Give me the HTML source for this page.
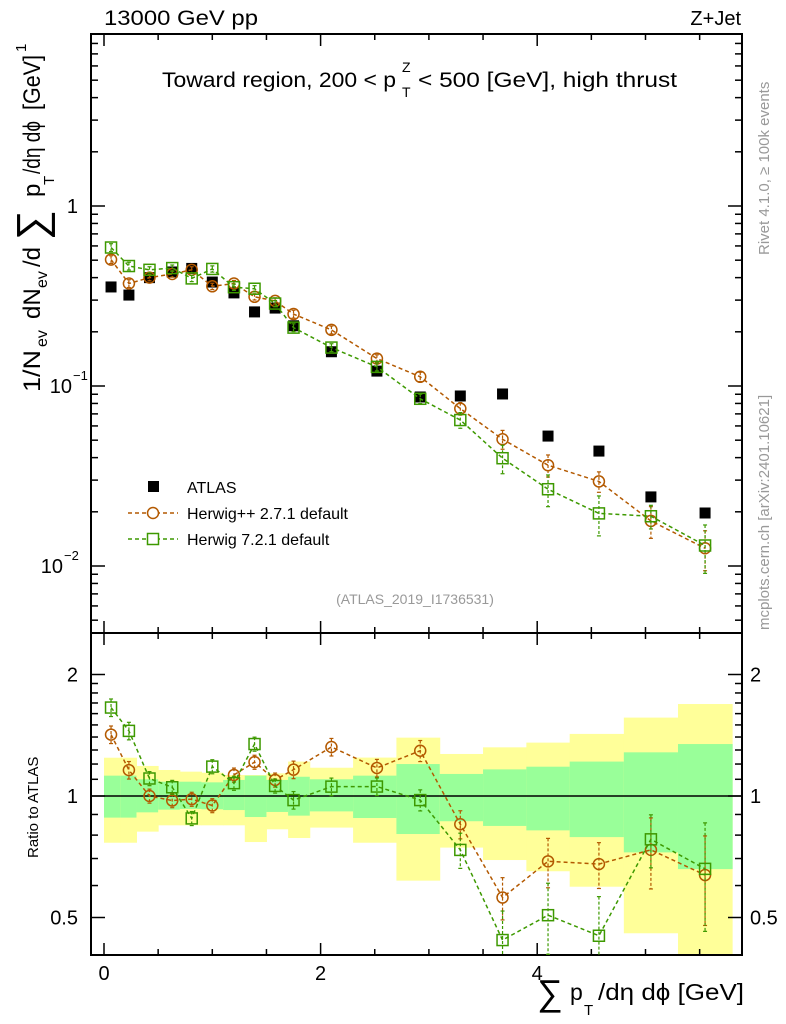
<!DOCTYPE html>
<html><head><meta charset="utf-8"><style>
body{margin:0;background:#fff;}
svg{display:block;font-family:"Liberation Sans",sans-serif;}
</style></head><body>
<svg id="c" width="786" height="1024"></svg>
<script>
const binEdges=[0,0.15,0.3,0.5,0.7,0.9,1.1,1.3,1.5,1.7,1.9,2.3,2.7,3.1,3.5,3.9,4.3,4.8,5.3,5.8];
const xCenters=[0.065,0.23,0.42,0.63,0.81,1.0,1.2,1.39,1.58,1.75,2.1,2.52,2.92,3.29,3.68,4.1,4.57,5.05,5.55];
const atlasVals=[0.355,0.32,0.40,0.43,0.45,0.378,0.329,0.258,0.271,0.216,0.155,0.121,0.0869,0.088,0.0903,0.0527,0.0435,0.0242,0.0197];
const herwigPP=[0.504,0.371,0.40,0.419,0.442,0.358,0.371,0.313,0.297,0.251,0.205,0.142,0.1125,0.0749,0.0506,0.0363,0.0295,0.0178,0.01255];
const herwig7=[0.588,0.464,0.442,0.452,0.396,0.447,0.354,0.347,0.287,0.211,0.1635,0.1277,0.0849,0.0647,0.0397,0.0267,0.0196,0.0189,0.0130];
const herwigPPErr=[0.05,0.05,0.04,0.04,0.04,0.04,0.04,0.04,0.04,0.05,0.05,0.05,0.06,0.08,0.12,0.14,0.13,0.2,0.25];
const herwig7Err=[0.05,0.05,0.04,0.04,0.04,0.04,0.04,0.04,0.04,0.05,0.05,0.05,0.06,0.1,0.18,0.2,0.25,0.15,0.3];
const yellowHi=[1.244,1.244,1.187,1.160,1.149,1.142,1.127,1.127,1.138,1.217,1.175,1.245,1.395,1.271,1.320,1.356,1.425,1.564,1.690];
const yellowLo=[0.766,0.766,0.816,0.846,0.846,0.846,0.846,0.769,0.827,0.787,0.835,0.766,0.617,0.745,0.694,0.651,0.596,0.457,0.38];
const greenHi=[1.123,1.123,1.100,1.085,1.085,1.081,1.096,1.123,1.096,1.116,1.100,1.123,1.200,1.134,1.164,1.182,1.217,1.283,1.345];
const greenLo=[0.884,0.884,0.911,0.925,0.929,0.927,0.923,0.887,0.913,0.894,0.916,0.882,0.805,0.866,0.843,0.822,0.791,0.725,0.659];

const L=91,R=742,T1=34,B1=633,T2=633,B2=955;
const X=v=>104+v*108.3;
const Y=v=>206-Math.log10(v)*180;
const YR=v=>796-Math.log2(v)*121.5;
const svg=document.getElementById('c');
const NS='http://www.w3.org/2000/svg';
function mk(tag,attrs,name,parent){const e=document.createElementNS(NS,tag);for(const k in attrs)e.setAttribute(k,attrs[k]);


(parent||svg).appendChild(e);return e;}
function txt(x,y,s,name,opts,parent){const o=Object.assign({x:x,y:y,'font-size':18,fill:'#000'},opts||{});if(o.textLength)o.lengthAdjust='spacingAndGlyphs';const e=mk('text',o,name,parent);e.textContent=s;return e;}
const cp=mk('clipPath',{id:'cr'},'ratio-clip');mk('rect',{x:L,y:T2,width:R-L,height:B2-T2},'clip-rect',cp);
const cm=mk('clipPath',{id:'cm'},'main-clip');mk('rect',{x:L,y:T1,width:R-L,height:B1-T1},'clip-rect-main',cm);
const gb=mk('g',{'clip-path':'url(#cr)'},'ratio-bands');
for(let i=0;i<xCenters.length;i++){
 const x0=X(binEdges[i]),x1=X(binEdges[i+1]);
 mk('rect',{x:x0,y:YR(yellowHi[i]),width:x1-x0+0.5,height:YR(yellowLo[i])-YR(yellowHi[i]),fill:'#ffff99'},'yellow-band',gb);
 mk('rect',{x:x0,y:YR(greenHi[i]),width:x1-x0+0.5,height:YR(greenLo[i])-YR(greenHi[i]),fill:'#99ff99'},'green-band',gb);
}
mk('line',{x1:L,x2:R,y1:YR(1),y2:YR(1),stroke:'#000','stroke-width':1.5},'ratio-unity-line');
mk('rect',{x:L,y:T1,width:R-L,height:B1-T1,fill:'none',stroke:'#000','stroke-width':2},'main-frame');
mk('rect',{x:L,y:T2,width:R-L,height:B2-T2,fill:'none',stroke:'#000','stroke-width':2},'ratio-frame');
for(let v=0;v<=5.8;v+=0.5){const big=Math.abs(v-Math.round(v/2)*2)<1e-6,l=big?12:6;
 [[T1,1],[B1,-1],[T2,1],[B2,-1]].forEach(([y,d])=>mk('line',{x1:X(v),x2:X(v),y1:y,y2:y+d*l,stroke:'#000','stroke-width':1.5},'x-tick'));}
[0,2,4].forEach(v=>txt(X(v),980,String(v),'x-tick-label',{'text-anchor':'middle','font-size':20}));
for(let e=-3;e<=0;e++)for(let m=1;m<10;m++){const v=m*Math.pow(10,e),y=Y(v);if(y<T1||y>B1)continue;const l=m==1?14:7;
 mk('line',{x1:L,x2:L+l,y1:y,y2:y,stroke:'#000','stroke-width':1.5},'y-tick');mk('line',{x1:R,x2:R-l,y1:y,y2:y,stroke:'#000','stroke-width':1.5},'y-tick');}
txt(78,213,'1','y-tick-label',{'text-anchor':'end','font-size':20});
txt(72,393,'10','y-tick-label',{'text-anchor':'end','font-size':20});
txt(73,380,'−1','y-tick-exp',{'font-size':13});
txt(63,573,'10','y-tick-label',{'text-anchor':'end','font-size':20});
txt(64,560,'−2','y-tick-exp',{'font-size':13});
[0.5,0.6,0.7,0.8,0.9,1,1.1,1.2,1.3,1.4,1.5,1.6,1.7,1.8,1.9,2].forEach(v=>{const y=YR(v);const l=(v==0.5||v==1||v==2)?14:7;
 mk('line',{x1:L,x2:L+l,y1:y,y2:y,stroke:'#000','stroke-width':1.5},'ratio-y-tick');mk('line',{x1:R,x2:R-l,y1:y,y2:y,stroke:'#000','stroke-width':1.5},'ratio-y-tick');});
[[2,'2'],[1,'1'],[0.5,'0.5']].forEach(([v,s])=>{txt(78,YR(v)+7,s,'ratio-tick-label',{'text-anchor':'end','font-size':20});txt(750,YR(v)+7,s,'ratio-tick-label-right',{'font-size':20});});
txt(104,25,'13000 GeV pp','title-left',{'font-size':21,textLength:154});
txt(741,25,'Z+Jet','title-right',{'text-anchor':'end','font-size':20});
txt(162,87,'Toward region, 200 < p','plot-title',{'font-size':21,textLength:234});
txt(402,97,'T','plot-title-sub',{'font-size':14});txt(402,72,'Z','plot-title-sup',{'font-size':14});
txt(418,87,'< 500 [GeV], high thrust','plot-title-rest',{'font-size':21,textLength:259});
txt(415,604,'(ATLAS_2019_I1736531)','analysis-id',{'text-anchor':'middle','font-size':14,fill:'#999'});
txt(0,0,'Rivet 4.1.0, ≥ 100k events','rivet-label',{'font-size':15,fill:'#999',transform:'translate(769,255) rotate(-90)'});
txt(0,0,'mcplots.cern.ch [arXiv:2401.10621]','mcplots-label',{'font-size':15,fill:'#999',transform:'translate(769,630) rotate(-90)'});
const yt=mk('g',{transform:'translate(40,395) rotate(-90)'},'y-axis-title');
txt(3,0,'1/N','y-title-part',{'font-size':24,textLength:42},yt);
txt(48,7,'ev','y-title-sub',{'font-size':16},yt);
txt(76,0,'dN','y-title-part',{'font-size':24},yt);
txt(107,7,'ev','y-title-sub',{'font-size':16},yt);
txt(128,0,'/d','y-title-part',{'font-size':24},yt);
txt(155,6,'∑','y-title-sum',{'font-size':42},yt);
txt(198,0,'p','y-title-part',{'font-size':24},yt);
txt(210,14,'T','y-title-sub',{'font-size':15},yt);
txt(221,0,'/dη dϕ','y-title-part',{'font-size':24,textLength:53},yt);
txt(285,0,'[GeV]','y-title-part',{'font-size':24,textLength:55},yt);
txt(343,-14,'1','y-title-sup',{'font-size':15},yt);
txt(0,0,'Ratio to ATLAS','ratio-y-axis-title',{'font-size':15,transform:'translate(38,858) rotate(-90)'});
txt(537,1005,'∑','x-axis-sum',{'font-size':36});
txt(570,1000,'p','x-axis-title',{'font-size':23});txt(584,1015,'T','x-axis-sub',{'font-size':15});
txt(598,1000,'/dη dϕ [GeV]','x-axis-title-rest',{'font-size':23,textLength:146});
const gm=mk('g',{'clip-path':'url(#cm)'},'main-series');
const gr=mk('g',{'clip-path':'url(#cr)'},'ratio-series');
function series(vals,errs,color,shape,name){
 [[gm,Y,vals,errs.map((e,i)=>e*vals[i])],[gr,YR,vals.map((v,i)=>v/atlasVals[i]),errs.map((e,i)=>e*vals[i]/atlasVals[i])]].forEach(([g,F,vs,es])=>{
  mk('polyline',{points:vs.map((v,i)=>X(xCenters[i])+','+F(v)).join(' '),fill:'none',stroke:color,'stroke-width':1.5,'stroke-dasharray':'4,3'},name+'-line',g);
  vs.forEach((v,i)=>{const x=X(xCenters[i]),y=F(v),y1=F(v+es[i]),y2=F(Math.max(v-es[i],1e-4));
   mk('line',{x1:x,x2:x,y1:y1,y2:y2,stroke:color,'stroke-width':1.2,'stroke-dasharray':'3,2'},name+'-errbar',g);
   mk('line',{x1:x-2,x2:x+2,y1:y1,y2:y1,stroke:color,'stroke-width':1.2},name+'-errcap',g);
   mk('line',{x1:x-2,x2:x+2,y1:y2,y2:y2,stroke:color,'stroke-width':1.2},name+'-errcap',g);
   if(shape=='c')mk('circle',{cx:x,cy:y,r:5.5,fill:'none',stroke:color,'stroke-width':1.5},name+'-point',g);
   else mk('rect',{x:x-5.5,y:y-5.5,width:11,height:11,fill:'none',stroke:color,'stroke-width':1.5},name+'-point',g);});
 });}
atlasVals.forEach((v,i)=>mk('rect',{x:X(xCenters[i])-5.5,y:Y(v)-5.5,width:11,height:11,fill:'#000'},'atlas-point',gm));
series(herwigPP,herwigPPErr,'#b35900','c','herwigpp');
series(herwig7,herwig7Err,'#3d9900','s','herwig7');
mk('rect',{x:148,y:481,width:11,height:11,fill:'#000'},'legend-atlas-marker');
txt(187,493,'ATLAS','legend-atlas-label',{'font-size':16});
mk('line',{x1:128,x2:178,y1:513,y2:513,stroke:'#b35900','stroke-width':1.5,'stroke-dasharray':'4,3'},'legend-herwigpp-line');
mk('circle',{cx:153,cy:513,r:5.5,fill:'#fff',stroke:'#b35900','stroke-width':1.5},'legend-herwigpp-marker');
txt(187,519,'Herwig++ 2.7.1 default','legend-herwigpp-label',{'font-size':16});
mk('line',{x1:128,x2:178,y1:539,y2:539,stroke:'#3d9900','stroke-width':1.5,'stroke-dasharray':'4,3'},'legend-herwig7-line');
mk('rect',{x:147.5,y:533.5,width:11,height:11,fill:'#fff',stroke:'#3d9900','stroke-width':1.5},'legend-herwig7-marker');
txt(187,545,'Herwig 7.2.1 default','legend-herwig7-label',{'font-size':16});
</script>
</body></html>
